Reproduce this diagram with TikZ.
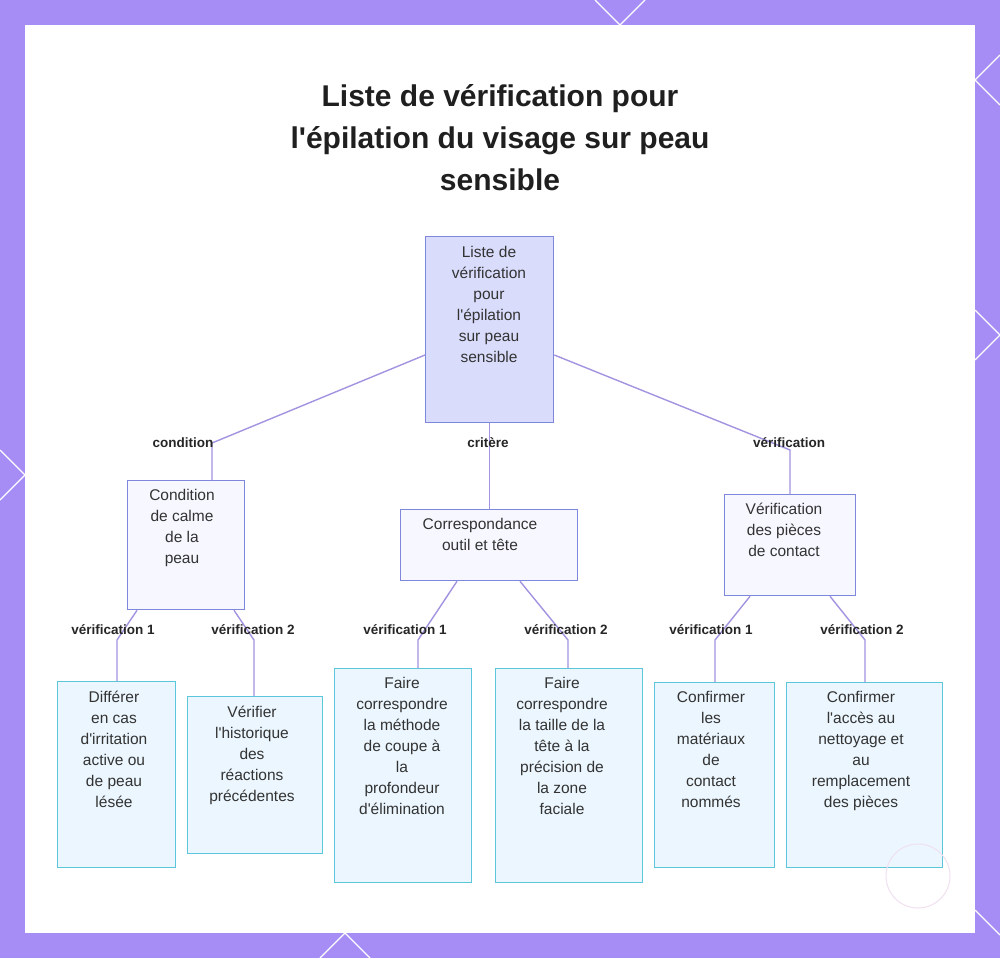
\documentclass[tikz,border=0pt]{standalone}
\usepackage{fontspec}
\setmainfont{Liberation Sans}[Ligatures=TeXOff]
\definecolor{frame}{HTML}{A68CF5}
\definecolor{rootf}{HTML}{D9DCFB}
\definecolor{midb}{HTML}{7F87DC}
\definecolor{midf}{HTML}{F6F7FF}
\definecolor{leafb}{HTML}{5CC6DA}
\definecolor{leaff}{HTML}{EBF6FE}
\definecolor{edgec}{HTML}{A393E0}
\begin{document}
\begin{tikzpicture}[x=1pt,y=-1pt,
  base/.style={draw,line width=1.3pt,anchor=north west,inner sep=0pt},
  top/.style={base,draw=midb,fill=rootf},
  mid/.style={base,draw=midb,fill=midf},
  leaf/.style={base,draw=leafb,fill=leaff},
  lt/.style={anchor=north,align=center,font=\fontsize{15.5}{21}\selectfont,text=black!80},
  edge/.style={draw=edgec,line width=1.4pt},
  lab/.style={font=\bfseries\fontsize{13.5}{15}\selectfont,text=black!85,inner sep=1pt}]
\useasboundingbox (0,0) rectangle (1000,958);
\fill[frame] (0,0) rectangle (1000,958);
\fill[white] (25,25) rectangle (975,933);
\foreach \a/\b/\c/\d in {0/450/25/475, 0/500/25/475, 595/0/620/25, 645/0/620/25, 975/80/1000/55, 975/80/1000/105, 975/310/1000/335, 975/360/1000/335, 345/933/320/958, 345/933/370/958, 975/910/1000/935}
  \draw[white,line width=1.2pt] (\a,\b) -- (\c,\d);
\node[font=\bfseries\fontsize{30}{42}\selectfont,align=center,text=black!88] (title) at (500,138)
  {Liste de vérification pour\\l'épilation du visage sur peau\\sensible};
\node[top,minimum width=128pt,minimum height=186pt] (r) at (425,236) {};
\node[lt] (rt) at (489,243) {Liste de\\vérification\\pour\\l'épilation\\sur peau\\sensible};
\node[mid,minimum width=117pt,minimum height=129pt] (c) at (127,480) {};
\node[lt] (ct) at (182,486) {Condition\\de calme\\de la\\peau};
\node[mid,minimum width=177pt,minimum height=71pt] (k) at (400,509) {};
\node[lt] (kt) at (480,515) {Correspondance\\outil et tête};
\node[mid,minimum width=131pt,minimum height=101pt] (v) at (724,494) {};
\node[lt] (vt) at (784,500) {Vérification\\des pièces\\de contact};
\node[leaf,minimum width=118pt,minimum height=186pt] (l1) at (57,681) {};
\node[lt] (l1t) at (114,688) {Différer\\en cas\\d'irritation\\active ou\\de peau\\lésée};
\node[leaf,minimum width=135pt,minimum height=157pt] (l2) at (187,696) {};
\node[lt] (l2t) at (252,703) {Vérifier\\l'historique\\des\\réactions\\précédentes};
\node[leaf,minimum width=137pt,minimum height=214pt] (l3) at (334,668) {};
\node[lt] (l3t) at (402,674) {Faire\\correspondre\\la méthode\\de coupe à\\la\\profondeur\\d'élimination};
\node[leaf,minimum width=147pt,minimum height=214pt] (l4) at (495,668) {};
\node[lt] (l4t) at (562,674) {Faire\\correspondre\\la taille de la\\tête à la\\précision de\\la zone\\faciale};
\node[leaf,minimum width=120pt,minimum height=185pt] (l5) at (654,682) {};
\node[lt] (l5t) at (711,688) {Confirmer\\les\\matériaux\\de\\contact\\nommés};
\node[leaf,minimum width=156pt,minimum height=185pt] (l6) at (786,682) {};
\node[lt] (l6t) at (861,688) {Confirmer\\l'accès au\\nettoyage et\\au\\remplacement\\des pièces};
\draw[edge] (r.west |- 0,355) -- (212,443) -- (c.north -| 212,0);
\draw[edge] (r.east |- 0,355) -- (790,450) -- (v.north -| 790,0);
\draw[edge] (r.south) -- (k.north -| r.south);
\draw[edge] (c.south -| 137,0) -- (117,640) -- (l1.north -| 117,0);
\draw[edge] (c.south -| 234,0) -- (254,640) -- (l2.north -| 254,0);
\draw[edge] (k.south -| 457,0) -- (418,640) -- (l3.north -| 418,0);
\draw[edge] (k.south -| 520,0) -- (568,640) -- (l4.north -| 568,0);
\draw[edge] (v.south -| 750,0) -- (715,640) -- (l5.north -| 715,0);
\draw[edge] (v.south -| 830,0) -- (865,640) -- (l6.north -| 865,0);
\node[lab] (e1) at (183,443) {condition};
\node[lab] (e2) at (488,443) {critère};
\node[lab] (e3) at (789,443) {vérification};
\node[lab] (e4) at (113,630) {vérification 1};
\node[lab] (e5) at (253,630) {vérification 2};
\node[lab] (e6) at (405,630) {vérification 1};
\node[lab] (e7) at (566,630) {vérification 2};
\node[lab] (e8) at (711,630) {vérification 1};
\node[lab] (e9) at (862,630) {vérification 2};
\draw[violet!12,line width=1pt] (918,876) circle (32);
\end{tikzpicture}
\end{document}
